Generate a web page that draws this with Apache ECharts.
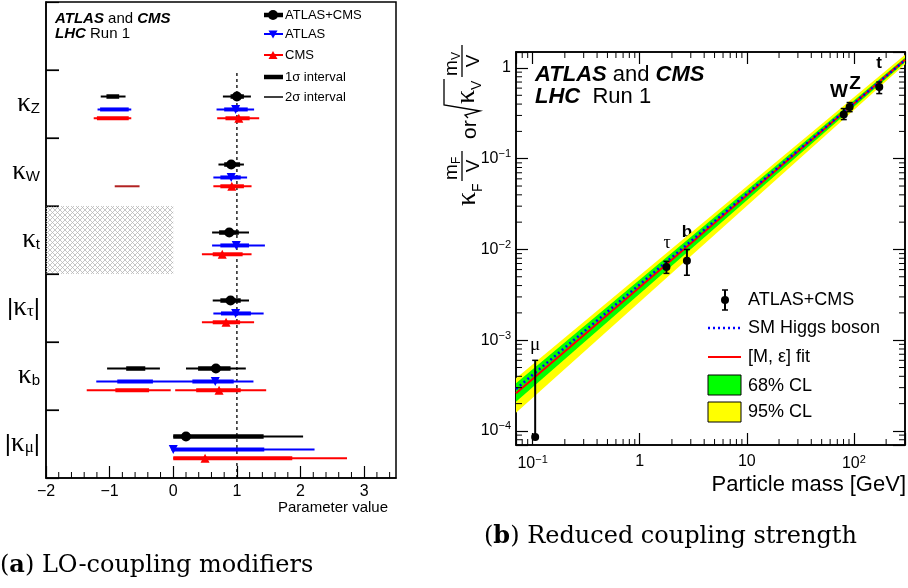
<!DOCTYPE html>
<html><head><meta charset="utf-8">
<script src="https://cdn.jsdelivr.net/npm/echarts@6/dist/echarts.min.js"></script>
<style>html,body{margin:0;padding:0;background:#fff}#c{width:908px;height:588px}</style>
</head><body><div id="c"></div>
<script>
const FONT = '"Liberation Sans", Arial, sans-serif';
const GREEK = '"Liberation Serif", serif';
const SERIF = '"DejaVu Serif", serif';

// ---------------- Panel (a): LO-coupling modifiers ----------------
// categories bottom -> top
const couplingSymbol = ['μ', 'b', 'τ', 't', 'W', 'Z'];
const couplingAbs    = [true, false, true, false, false, false];
const couplingNames  = ['|κμ|', 'κb', '|κτ|', 'κt', 'κW', 'κZ'];

// ATLAS+CMS
const combCentral = [0.20, 0.67, 0.90, 0.88, 0.91, 1.00];
const comb1s = [[[0, 1.42]], [[-0.74, -0.44], [0.39, 0.90]], [[0.74, 1.06]], [[0.72, 1.03]], [[0.80, 1.05]], [[-1.05, -0.85], [0.90, 1.11]]];
const comb2s = [[[0, 2.04]], [[-1.04, -0.21], [0.20, 1.14]], [[0.62, 1.19]], [[0.61, 1.19]], [[0.71, 1.11]], [[-1.14, -0.75], [0.78, 1.22]]];
// ATLAS
const atlasCentral = [0.00, 0.66, 0.98, 0.99, 0.91, 0.98];
const atlas1s = [[[0, 1.43]], [[-0.88, -0.32], [0.30, 0.95]], [[0.75, 1.22]], [[0.74, 1.19]], [[0.74, 1.06]], [[-1.15, -0.70], [0.80, 1.17]]];
const atlas2s = [[[-0.03, 2.22]], [[-1.21, 1.26]], [[0.63, 1.42]], [[0.61, 1.44]], [[0.63, 1.16]], [[-1.19, -0.66], [0.68, 1.27]]];
// CMS
const cmsCentral = [0.50, 0.72, 0.83, 0.77, 0.92, 1.03];
const cms1s = [[[0, 1.87]], [[-0.91, -0.38], [0.36, 1.06]], [[0.62, 1.05]], [[0.62, 1.09]], [[0.74, 1.11]], [[-1.20, -0.70], [0.82, 1.20]]];
const cms2s = [[[0, 2.73]], [[-1.36, -0.04], [0.03, 1.46]], [[0.45, 1.27]], [[0.45, 1.23]], [[0.63, 1.23]], [[-1.25, -0.66], [0.69, 1.35]]];
const cmsWNeg2s = [-0.92, -0.53];   // CMS kappa_W negative 2-sigma island
const excludedRange = [-2, 0];      // kappa_t < 0 hatched region
const smValue = 1;

const xTickValuesA = [-2, -1, 0, 1, 2, 3];
const xMinorA = [-1.8, -1.6, -1.4, -1.2, -0.8, -0.6, -0.4, -0.2, 0.2, 0.4, 0.6, 0.8, 1.2, 1.4, 1.6, 1.8, 2.2, 2.4, 2.6, 2.8, 3.2, 3.4];
const bandBoundaries = [1, 2, 3, 4, 5, 6];

// ---------------- Panel (b): Reduced coupling strength ----------------
const particles  = ['μ', 'τ', 'b', 'W', 'Z', 't'];
const masses     = [0.1057, 1.777, 2.76, 80.4, 91.19, 172.5];
const reduced    = [8.6e-5, 6.4e-3, 7.5e-3, 0.307, 0.372, 0.618];
const reducedLo  = [8.6e-5, 5.45e-3, 5.2e-3, 0.270, 0.330, 0.522];
const reducedHi  = [6.0e-4, 7.4e-3, 1.0e-2, 0.357, 0.416, 0.70];
const lineMass   = [0.07, 300];
const smLine     = [2.9e-4, 1.22];
const fitLine    = [2.6e-4, 1.23];
const cl68Lo     = [2.1e-4, 1.16];
const cl68Hi     = [3.35e-4, 1.30];
const cl95Lo     = [1.59e-4, 1.10];
const cl95Hi     = [3.8e-4, 1.40];
const xMinorB = [0.08, 0.09, 0.2, 0.3, 0.4, 0.5, 0.6, 0.7, 0.8, 0.9, 2, 3, 4, 5, 6, 7, 8, 9, 20, 30, 40, 50, 60, 70, 80, 90, 200];
const yMinorB = [8e-5, 9e-5, 2e-4, 3e-4, 4e-4, 5e-4, 6e-4, 7e-4, 8e-4, 9e-4, 2e-3, 3e-3, 4e-3, 5e-3, 6e-3, 7e-3, 8e-3, 9e-3,
                 0.02, 0.03, 0.04, 0.05, 0.06, 0.07, 0.08, 0.09, 0.2, 0.3, 0.4, 0.5, 0.6, 0.7, 0.8, 0.9];
const xRangeB = [0.07, 300];
const yRangeB = [7e-5, 1.5];

// ---------------- helpers ----------------
const rowOffset = { comb: 0.61, atlas: 0.42, cms: 0.29 };
function intervalData(list, off, w) {
  const out = [];
  list.forEach((ivs, i) => ivs.forEach(iv => out.push([iv[0], iv[1], i + off, w])));
  return out;
}
function intervalRender(params, api) {
  const a = api.coord([api.value(0), api.value(2)]);
  const b = api.coord([api.value(1), api.value(2)]);
  return { type: 'line', shape: { x1: a[0], y1: a[1], x2: b[0], y2: b[1] },
    style: { stroke: api.visual('color'), lineWidth: api.value(3) } };
}
function intervalSeries(list, off, w, color, z) {
  return { type: 'custom', xAxisIndex: 0, yAxisIndex: 1, z, silent: true,
    itemStyle: { color }, encode: { x: [0, 1], y: 2 },
    data: intervalData(list, off, w), renderItem: intervalRender };
}
function markerSeries(vals, off, symbol, rotate, color, size) {
  return { type: 'scatter', xAxisIndex: 0, yAxisIndex: 1, z: 10, silent: true,
    symbol, symbolRotate: rotate, symbolSize: size, itemStyle: { color, opacity: 1 },
    data: vals.map((v, i) => [v, i + off]) };
}
function supLabel(v) {
  const l = Math.log10(v), n = Math.round(l);
  if (Math.abs(l - n) > 1e-6) return '';
  if (n === 0) return '1';
  if (n === 1) return '10';
  return '{n|10}{s|' + String(n).replace('-', '−') + '}';
}
const supRich = { n: { fontSize: 16, fontFamily: FONT, color: '#000', lineHeight: 20, verticalAlign: 'middle' },
                  s: { fontSize: 11, fontFamily: FONT, color: '#000', lineHeight: 11, verticalAlign: 'top' } };

// hatch pattern
const pc = document.createElement('canvas'); pc.width = 5; pc.height = 5;
const g2 = pc.getContext('2d'); g2.strokeStyle = '#b8b8b8'; g2.lineWidth = 0.8;
g2.beginPath(); g2.moveTo(0, 0); g2.lineTo(5, 5); g2.moveTo(5, 0); g2.lineTo(0, 5); g2.stroke();

function T(text, x, y, size, opt) {
  opt = opt || {};
  return { type: 'text', x, y, silent: true, style: { text, fontSize: size, fontFamily: opt.family || FONT, fill: '#000',
    fontWeight: opt.bold ? 'bold' : 'normal', fontStyle: opt.italic ? 'italic' : 'normal',
    align: opt.align || 'left', verticalAlign: 'middle', rich: opt.rich } };
}
function L(x1, y1, x2, y2, color, w, dash) {
  return { type: 'line', silent: true, shape: { x1, y1, x2, y2 }, style: { stroke: color, lineWidth: w, lineDash: dash || null } };
}

const chart = echarts.init(document.getElementById('c'), null, { renderer: 'canvas' });

const option = {
  animation: false,
  backgroundColor: '#fff',
  grid: [
    { left: 46, top: 2, width: 350, height: 476, show: true, borderColor: '#000', borderWidth: 1.5, backgroundColor: 'transparent' },
    { left: 516, top: 52, width: 390, height: 393, show: true, borderColor: '#000', borderWidth: 1.5, backgroundColor: 'transparent' }
  ],
  xAxis: [
    { gridIndex: 0, type: 'value', min: -2, max: 3.5, interval: 1,
      axisLine: { onZero: false, lineStyle: { color: '#000', width: 1.5 } },
      axisTick: { inside: true, length: 12, lineStyle: { color: '#000', width: 1.2 } },
      splitLine: { show: false },
      axisLabel: { color: '#000', fontSize: 16, fontFamily: FONT, margin: 6, showMaxLabel: false,
        formatter: v => xTickValuesA.indexOf(v) >= 0 ? String(v).replace('-', '−') : '' } },
    { gridIndex: 1, type: 'log', logBase: 10, min: xRangeB[0], max: xRangeB[1],
      axisLine: { onZero: false, lineStyle: { color: '#000', width: 1.5 } },
      axisTick: { inside: true, length: 12, lineStyle: { color: '#000', width: 1.2 } },
      splitLine: { show: false }, minorTick: { show: false },
      axisLabel: { color: '#000', fontSize: 16, fontFamily: FONT, margin: 9, formatter: supLabel, rich: supRich } },
    { gridIndex: 1, type: 'log', logBase: 10, min: xRangeB[0], max: xRangeB[1], position: 'top',
      axisLine: { onZero: false, lineStyle: { color: '#000', width: 1.5 } },
      axisTick: { inside: true, length: 12, lineStyle: { color: '#000', width: 1.2 } },
      splitLine: { show: false }, axisLabel: { show: false } }
  ],
  yAxis: [
    { gridIndex: 0, type: 'category', data: couplingNames.concat(['']), boundaryGap: true,
      axisLine: { onZero: false, lineStyle: { color: '#000', width: 1.5 } },
      axisTick: { show: true, interval: 0, inside: true, length: 13, lineStyle: { color: '#000', width: 1.2 } },
      axisLabel: { margin: 6, color: '#000', interval: 0,
        formatter: (v, i) => {
          if (i >= couplingSymbol.length) return '';
          const sub = couplingSymbol[i];
          const core = '{k|κ}{' + (/[a-zA-Z]/.test(sub) ? 's' : 'g') + '|' + sub + '}';
          return couplingAbs[i] ? '{p||}' + core + '{p||}' : core;
        },
        rich: {
          k: { fontSize: 27, fontFamily: GREEK, color: '#000', verticalAlign: 'middle', lineHeight: 24 },
          s: { fontSize: 15, fontFamily: FONT, color: '#000', verticalAlign: 'bottom', lineHeight: 15, padding: [10, 0, 0, 0] },
          g: { fontSize: 17, fontFamily: GREEK, color: '#000', verticalAlign: 'bottom', lineHeight: 15, padding: [10, 0, 0, 0] },
          p: { fontSize: 24, fontFamily: FONT, color: '#000', verticalAlign: 'middle', lineHeight: 24 }
        } } },
    { gridIndex: 0, type: 'value', min: 0, max: 7, show: false },
    { gridIndex: 1, type: 'log', logBase: 10, min: yRangeB[0], max: yRangeB[1],
      axisLine: { onZero: false, lineStyle: { color: '#000', width: 1.5 } },
      axisTick: { inside: true, length: 12, lineStyle: { color: '#000', width: 1.2 } },
      splitLine: { show: false },
      axisLabel: { color: '#000', fontSize: 16, fontFamily: FONT, margin: 5, formatter: supLabel, rich: supRich } },
    { gridIndex: 1, type: 'log', logBase: 10, min: yRangeB[0], max: yRangeB[1], position: 'right',
      axisLine: { onZero: false, lineStyle: { color: '#000', width: 1.5 } },
      axisTick: { inside: true, length: 12, lineStyle: { color: '#000', width: 1.2 } },
      splitLine: { show: false }, axisLabel: { show: false } }
  ],
  series: [
    // ---- panel (a)
    { type: 'custom', xAxisIndex: 0, yAxisIndex: 1, z: 1, silent: true, clip: true,
      data: [[excludedRange[0], 3, excludedRange[1], 4]], encode: { x: [0, 2], y: [1, 3] },
      renderItem: (p, api) => {
        const a = api.coord([api.value(0), api.value(3)]);
        const b = api.coord([api.value(2), api.value(1)]);
        return { type: 'rect', shape: { x: a[0], y: a[1], width: b[0] - a[0], height: b[1] - a[1] },
          style: { fill: { image: pc, repeat: 'repeat' } } };
      } },
    { type: 'custom', xAxisIndex: 0, yAxisIndex: 1, z: 12, silent: true,
      data: [[-2, 0]], encode: { x: 0, y: 1 },
      renderItem: (p, api) => {
        const ch = xMinorA.map(v => api.coord([v, 0])).map(q => ({ type: 'line',
          shape: { x1: q[0], y1: q[1], x2: q[0], y2: q[1] - 6 }, style: { stroke: '#000', lineWidth: 1 } }));
        bandBoundaries.forEach(b => {
          const q = api.coord([-2, b]);
          ch.push({ type: 'line', shape: { x1: q[0], y1: q[1], x2: q[0] + 13, y2: q[1] }, style: { stroke: '#000', lineWidth: 1.2 } });
        });
        return { type: 'group', children: ch };
      } },
    { type: 'line', xAxisIndex: 0, yAxisIndex: 1, z: 3, silent: true, symbol: 'none',
      data: [[smValue, 0], [smValue, 6]], lineStyle: { color: '#000', width: 1.3, type: [3, 3] } },
    intervalSeries(comb2s, rowOffset.comb, 2, '#000', 4),
    intervalSeries(atlas2s, rowOffset.atlas, 2, '#0000ff', 4),
    intervalSeries(cms2s, rowOffset.cms, 2, '#ff0000', 4),
    { type: 'custom', xAxisIndex: 0, yAxisIndex: 1, z: 4, silent: true, itemStyle: { color: '#b22222' },
      encode: { x: [0, 1], y: 2 }, data: [[cmsWNeg2s[0], cmsWNeg2s[1], 4 + rowOffset.cms, 2]], renderItem: intervalRender },
    intervalSeries(comb1s, rowOffset.comb, 4.5, '#000', 5),
    intervalSeries(atlas1s, rowOffset.atlas, 4, '#0000ff', 5),
    intervalSeries(cms1s, rowOffset.cms, 4, '#ff0000', 5),
    markerSeries(combCentral, rowOffset.comb, 'circle', 0, '#000', 10),
    markerSeries(atlasCentral, rowOffset.atlas, 'triangle', 180, '#0000ff', 9),
    markerSeries(cmsCentral, rowOffset.cms, 'triangle', 0, '#ff0000', 9),

    // ---- panel (b)
    ...[[cl95Lo, cl95Hi, '#ffff00', 1], [cl68Lo, cl68Hi, '#00ff00', 2]].map(([lo, hi, col, z]) => ({
      type: 'custom', xAxisIndex: 1, yAxisIndex: 2, clip: true, z, silent: true,
      data: [[lineMass[0], lo[0]]], encode: { x: 0, y: 1 },
      renderItem: (p, api) => {
        const pts = lineMass.map((m, i) => api.coord([m, hi[i]]));
        for (let i = lineMass.length - 1; i >= 0; i--) pts.push(api.coord([lineMass[i], lo[i]]));
        return { type: 'polygon', shape: { points: pts }, style: { fill: col } };
      } })),
    { type: 'line', xAxisIndex: 1, yAxisIndex: 2, z: 3, silent: true, symbol: 'none', clip: true,
      data: lineMass.map((m, i) => [m, fitLine[i]]), lineStyle: { color: '#ff0000', width: 2 } },
    { type: 'line', xAxisIndex: 1, yAxisIndex: 2, z: 4, silent: true, symbol: 'none', clip: true,
      data: lineMass.map((m, i) => [m, smLine[i]]), lineStyle: { color: '#0000ff', width: 2.5, type: [2, 3] } },
    { type: 'custom', xAxisIndex: 1, yAxisIndex: 2, z: 6, silent: true,
      data: masses.map((m, i) => [m, reducedLo[i], reducedHi[i]]), encode: { x: 0, y: [1, 2] },
      renderItem: (p, api) => {
        const a = api.coord([api.value(0), api.value(1)]);
        const b = api.coord([api.value(0), api.value(2)]);
        return { type: 'group', children: [
          { type: 'line', shape: { x1: a[0], y1: a[1], x2: b[0], y2: b[1] }, style: { stroke: '#000', lineWidth: 2 } },
          { type: 'line', shape: { x1: a[0] - 3, y1: a[1], x2: a[0] + 3, y2: a[1] }, style: { stroke: '#000', lineWidth: 1.5 } },
          { type: 'line', shape: { x1: b[0] - 3, y1: b[1], x2: b[0] + 3, y2: b[1] }, style: { stroke: '#000', lineWidth: 1.5 } }
        ] };
      } },
    { type: 'scatter', xAxisIndex: 1, yAxisIndex: 2, z: 7, silent: true, symbol: 'circle', symbolSize: 8,
      itemStyle: { color: '#000', opacity: 1 }, data: masses.map((m, i) => [m, reduced[i]]) },
    { type: 'custom', xAxisIndex: 1, yAxisIndex: 2, z: 8, silent: true,
      data: [[xRangeB[0], yRangeB[0]]], encode: { x: 0, y: 1 },
      renderItem: (p, api) => {
        const ch = [];
        xMinorB.forEach(v => {
          const b = api.coord([v, yRangeB[0]]), t = api.coord([v, yRangeB[1]]);
          ch.push({ type: 'line', shape: { x1: b[0], y1: b[1], x2: b[0], y2: b[1] - 6 }, style: { stroke: '#000', lineWidth: 1 } });
          ch.push({ type: 'line', shape: { x1: t[0], y1: t[1], x2: t[0], y2: t[1] + 6 }, style: { stroke: '#000', lineWidth: 1 } });
        });
        yMinorB.forEach(v => {
          const l = api.coord([xRangeB[0], v]), r = api.coord([xRangeB[1], v]);
          ch.push({ type: 'line', shape: { x1: l[0], y1: l[1], x2: l[0] + 6, y2: l[1] }, style: { stroke: '#000', lineWidth: 1 } });
          ch.push({ type: 'line', shape: { x1: r[0], y1: r[1], x2: r[0] - 6, y2: r[1] }, style: { stroke: '#000', lineWidth: 1 } });
        });
        return { type: 'group', children: ch };
      } }
  ],
  graphic: [
    // panel (a) texts
    T('{b|ATLAS} and {b|CMS}', 55, 19, 15, { rich: { b: { fontWeight: 'bold', fontStyle: 'italic', fontSize: 15, fontFamily: FONT } } }),
    T('{b|LHC} Run 1', 55, 34, 15, { rich: { b: { fontWeight: 'bold', fontStyle: 'italic', fontSize: 15, fontFamily: FONT } } }),
    // legend (a)
    L(264, 15, 283, 15, '#000', 4.5), { type: 'circle', shape: { cx: 273, cy: 15, r: 5 }, style: { fill: '#000' } },
    T('ATLAS+CMS', 285, 15, 13),
    L(264, 34, 283, 34, '#0000ff', 2), { type: 'polygon', shape: { points: [[268.5, 30.5], [277.5, 30.5], [273, 38.5]] }, style: { fill: '#0000ff' } },
    T('ATLAS', 285, 34, 13),
    L(264, 55, 283, 55, '#ff0000', 2), { type: 'polygon', shape: { points: [[268.5, 59], [277.5, 59], [273, 51]] }, style: { fill: '#ff0000' } },
    T('CMS', 285, 55, 13),
    L(264, 77, 283, 77, '#000', 4.5), T('1σ interval', 285, 77, 13),
    L(264, 97, 283, 97, '#000', 1.5), T('2σ interval', 285, 97, 13),
    T('Parameter value', 388, 508, 15, { align: 'right' }),
    // panel (b) texts
    T('{b|ATLAS} and {b|CMS}', 535, 75, 22, { rich: { b: { fontWeight: 'bold', fontStyle: 'italic', fontSize: 22, fontFamily: FONT } } }),
    T('{b|LHC}  Run 1', 535, 97, 22, { rich: { b: { fontWeight: 'bold', fontStyle: 'italic', fontSize: 22, fontFamily: FONT } } }),
    T('μ', 535, 345, 19, { align: 'center', family: GREEK }),
    T('τ', 667, 243, 18, { align: 'center', family: GREEK }),
    T('b', 687, 232, 17, { align: 'center', bold: true }),
    T('W', 839, 92, 19, { align: 'center', bold: true }),
    T('Z', 855, 84, 19, { align: 'center', bold: true }),
    T('t', 879, 63, 17, { align: 'center', bold: true }),
    T('Particle mass [GeV]', 906, 485, 22, { align: 'right' }),
    // legend (b)
    L(725, 290, 725, 310, '#000', 2), L(722, 290, 728, 290, '#000', 1.5), L(722, 310, 728, 310, '#000', 1.5),
    { type: 'circle', shape: { cx: 725, cy: 300, r: 4 }, style: { fill: '#000' } },
    T('ATLAS+CMS', 748, 300, 18),
    L(708, 328, 741, 328, '#0000ff', 2.5, [2, 3]), T('SM Higgs boson', 748, 328, 18),
    L(708, 357, 741, 357, '#ff0000', 2), T('[M, ε] fit', 748, 357, 18),
    { type: 'rect', shape: { x: 708, y: 375, width: 33, height: 20 }, style: { fill: '#00ff00', stroke: '#000', lineWidth: 1 } },
    T('68% CL', 748, 386, 18),
    { type: 'rect', shape: { x: 708, y: 402, width: 33, height: 20 }, style: { fill: '#ffff00', stroke: '#000', lineWidth: 1 } },
    T('95% CL', 748, 412, 18),
    // y title panel (b), rotated
    { type: 'group', x: 470, y: 207, rotation: Math.PI / 2, children: [
      T('κ', 1, -2, 28, { family: GREEK }), T('F', 15, 8, 14),
      T('m', 27, -18, 19), T('F', 43, -13, 12),
      L(26, -8, 56, -8, '#000', 1.3),
      T('V', 41, 4, 19, { align: 'center' }),
      T('or', 68, 0, 21),
      { type: 'polyline', shape: { points: [[89, -2], [92, -5], [96, 10], [102, -26], [128, -26]] }, style: { stroke: '#000', lineWidth: 1.3, fill: null } },
      T('κ', 103, -3, 28, { family: GREEK }), T('V', 117, 7, 14),
      T('m', 131, -18, 19), T('V', 147, -13, 12),
      L(130, -8, 162, -8, '#000', 1.3),
      T('V', 146, 4, 19, { align: 'center' })
    ] },
    // captions
    { type: 'text', x: 0, y: 566, style: { text: '({b|a}) LO-coupling modifiers', fontSize: 24, fontFamily: SERIF, fill: '#000', verticalAlign: 'middle',
      rich: { b: { fontWeight: 'bold', fontSize: 24, fontFamily: SERIF } } } },
    { type: 'text', x: 484, y: 537, style: { text: '({b|b}) Reduced coupling strength', fontSize: 24, fontFamily: SERIF, fill: '#000', verticalAlign: 'middle',
      rich: { b: { fontWeight: 'bold', fontSize: 24, fontFamily: SERIF } } } }
  ]
};
chart.setOption(option);
</script>
</body></html>
